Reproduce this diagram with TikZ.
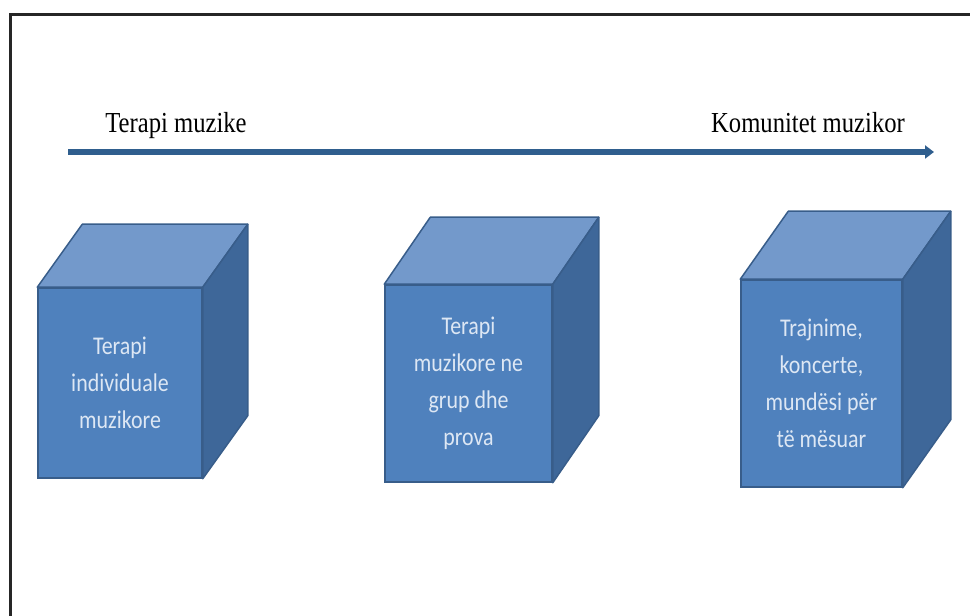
\documentclass[tikz,border=0pt]{standalone}
\usepackage{fontspec}
\setmainfont[FakeStretch=0.85]{Liberation Serif}
\newfontfamily\boxfont[FakeStretch=0.86]{Carlito}
\usetikzlibrary{arrows.meta,positioning}
\definecolor{frontblue}{HTML}{4F81BD}
\definecolor{topblue}{HTML}{7399CB}
\definecolor{sideblue}{HTML}{3E6799}
\definecolor{edgeblue}{HTML}{385D8A}
\definecolor{arrowblue}{HTML}{2F5E8E}
\definecolor{boxtext}{HTML}{DDE7F4}
\tikzstyle{front}=[draw=edgeblue,fill=frontblue,line width=1.5pt,inner sep=0pt,
  align=center,text=boxtext,font=\boxfont\fontsize{25.5}{37}\selectfont]
\tikzstyle{face}=[draw=edgeblue,line width=1.5pt,line join=round]
\tikzstyle{label}=[font=\fontsize{29}{32}\selectfont,inner sep=0pt,anchor=base]

\begin{document}
\begin{tikzpicture}[x=1pt,y=1pt]
    \useasboundingbox (0,0) rectangle (970,616);
    
    % frame
    \draw[line width=3pt,black!85] (10,0) -- (10,601) -- (970,601);
    
    % arrow
    \coordinate (start) at (68,464);
    \coordinate (end)   at (934,464);
    \draw[arrowblue,line width=6pt,-{Triangle[length=9pt,width=13pt]}] (start) -- (end);
    \node[label] (left)  at (176,483) {Terapi muzike};
    \node[label] (right) at (808,483) {Komunitet muzikor};
    
    % front faces
    \node[front,minimum width=164pt,minimum height=190pt] (c1) at (120,233)
        {Terapi\\individuale\\muzikore};
    \node[front,minimum width=167pt,minimum height=197pt] (c2) at (468.5,232.5)
        {Terapi\\muzikore ne\\grup dhe\\prova};
    \node[front,minimum width=161pt,minimum height=207pt] (c3) at (821.5,232.5)
        {Trajnime,\\koncerte,\\mundësi për\\të mësuar};
    
    % top and side faces
    \foreach \n/\dx/\dy in {c1/45/63,c2/46/67,c3/48/68}{
        \draw[face,fill=topblue] (\n.north west) -- ++(\dx,\dy) -- ([shift={(\dx,\dy)}]\n.north east)
            -- (\n.north east) -- cycle;
        \draw[face,fill=sideblue] (\n.north east) -- ++(\dx,\dy) -- ([shift={(\dx,\dy)}]\n.south east)
            -- (\n.south east) -- cycle;
    }
    
\end{tikzpicture}
\end{document}
